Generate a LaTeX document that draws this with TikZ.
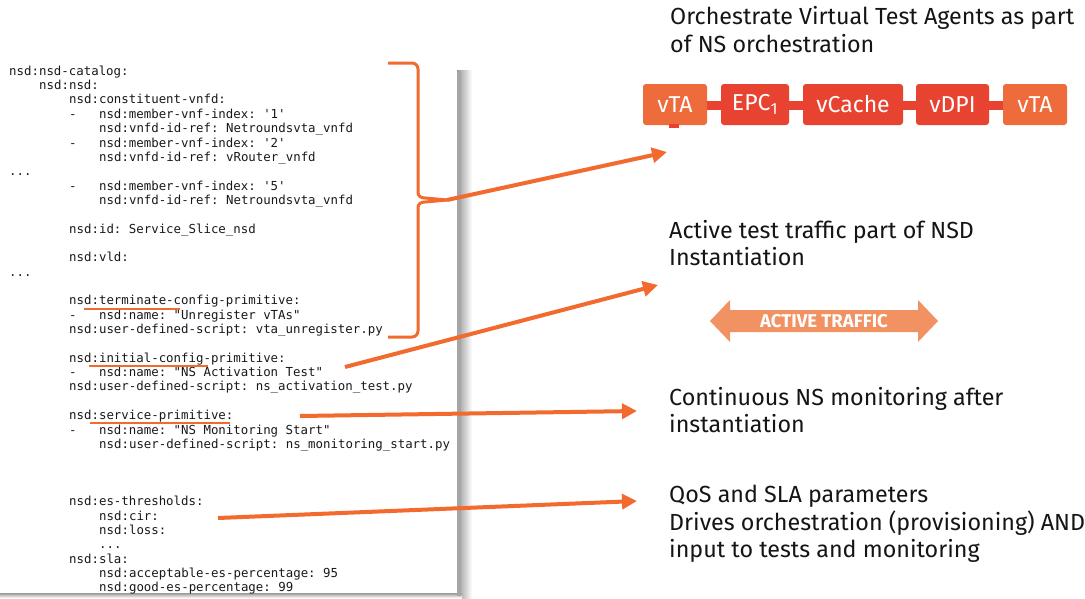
\documentclass[tikz,border=0pt]{standalone}
\usepackage{fontspec}
\setmainfont{Fira Sans}
\newfontfamily\codefont{DejaVu Sans Mono}
\usetikzlibrary{arrows.meta}
\definecolor{markorange}{HTML}{F26A2E}
\definecolor{vtaorange}{HTML}{EE6C3C}
\definecolor{vnfred}{HTML}{E84330}
\definecolor{trafficorange}{HTML}{F29263}
\definecolor{inktext}{HTML}{151515}

\begin{document}
\begin{tikzpicture}[x=1pt,y=-1pt,
    code/.style={anchor=west,inner sep=0pt,text=black!90,
      font=\codefont\fontsize{12.4}{14}\selectfont\frenchspacing,text height=9pt,text depth=2.5pt},
    title/.style={anchor=north west,align=left,inner sep=0pt,text=inktext,
      font=\fontsize{23.3}{27.4}\selectfont},
    vnfbox/.style={fill=vnfred,text=white,rounded corners=3pt,minimum height=41pt,
      inner sep=0pt,font=\fontsize{23}{23}\selectfont},
    vtabox/.style={vnfbox,fill=vtaorange},
    pointer/.style={markorange,line width=4pt,-{Triangle[length=15pt,width=15pt]}},
    markline/.style={markorange,line width=2.6pt},
  ]
    \useasboundingbox (0,0) rectangle (1085,598);
    \fill[white] (0,0) rectangle (1085,598);
    % code panel shadow
    \shade[left color=black!40,right color=white] (457,70) rectangle (472,598);
    \shade[top color=black!40,bottom color=white] (0,593) rectangle (462,598);
    \fill[black!35] (457,72) rectangle (461,596);

    % descriptor listing
    \node[code] (l0)  at (9,72)             {nsd:nsd-catalog:};
    \node[code] (l1)  at (39,72+1*14.35)    {nsd:nsd:};
    \node[code] (l2)  at (69,72+2*14.35)    {nsd:constituent-vnfd:};
    \node[code] (l3)  at (69,72+3*14.35)    {-\ \ \ nsd:member-vnf-index: '1'};
    \node[code] (l4)  at (99,72+4*14.35)    {nsd:vnfd-id-ref: Netroundsvta\_vnfd};
    \node[code] (l5)  at (69,72+5*14.35)    {-\ \ \ nsd:member-vnf-index: '2'};
    \node[code] (l6)  at (99,72+6*14.35)    {nsd:vnfd-id-ref: vRouter\_vnfd};
    \node[code] (l7)  at (9,72+7*14.35)     {...};
    \node[code] (l8)  at (69,72+8*14.35)    {-\ \ \ nsd:member-vnf-index: '5'};
    \node[code] (l9)  at (99,72+9*14.35)    {nsd:vnfd-id-ref: Netroundsvta\_vnfd};
    \node[code] (l11) at (69,72+11*14.35)   {nsd:id: Service\_Slice\_nsd};
    \node[code] (l13) at (69,72+13*14.35)   {nsd:vld:};
    \node[code] (l14) at (9,72+14*14.35)    {...};
    \node[code] (l16) at (69,72+16*14.35)   {nsd:terminate-config-primitive:};
    \node[code] (l17) at (69,72+17*14.35)   {-\ \ \ nsd:name: "Unregister vTAs"};
    \node[code] (l18) at (69,72+18*14.35)   {nsd:user-defined-script: vta\_unregister.py};
    \node[code] (l20) at (69,72+20*14.35)   {nsd:initial-config-primitive:};
    \node[code] (l21) at (69,72+21*14.35)   {-\ \ \ nsd:name: "NS Activation Test"};
    \node[code] (l22) at (69,72+22*14.35)   {nsd:user-defined-script: ns\_activation\_test.py};
    \node[code] (l24) at (69,72+24*14.35)   {nsd:service-primitive:};
    \node[code] (l25) at (69,72+25*14.35)   {-\ \ \ nsd:name: "NS Monitoring Start"};
    \node[code] (l26) at (99,72+26*14.35)   {nsd:user-defined-script: ns\_monitoring\_start.py};
    \node[code] (l30) at (69,72+30*14.35)   {nsd:es-thresholds:};
    \node[code] (l31) at (99,72+31*14.35)   {nsd:cir:};
    \node[code] (l32) at (99,72+32*14.35)   {nsd:loss:};
    \node[code] (l33) at (99,72+33*14.35)   {...};
    \node[code] (l34) at (69,72+34*14.35)   {nsd:sla:};
    \node[code] (l35) at (99,72+35*14.35)   {nsd:acceptable-es-percentage: 95};
    \node[code] (l36) at (99,72+36*14.35)   {nsd:good-es-percentage: 99};

    % hand-drawn marks
    \draw[markline] (84,309)--(180,309);
    \draw[markline] (89,366)--(208,366);
    \draw[markline] (90,423)--(230,423);
    \coordinate (tip) at (447,200);
    \draw[markline,line width=3pt,line join=round] (388,63) -- (412,63) to[out=0,in=90] (418,69)
      -- (418,193) to[out=-90,in=180] (425,198) -- (tip);
    \draw[markline,line width=3pt,line join=round] (388,337) -- (412,337) to[out=0,in=-90] (418,331)
      -- (418,207) to[out=90,in=180] (425,202) -- (tip);

    % right hand texts
    \node[title] (orch) at (670,6.5) {Orchestrate Virtual Test Agents as part\\of NS orchestration};
    \node[title] (active) at (669,220) {Active test traffic part of NSD\\Instantiation};
    \node[title] (monitor) at (669,387) {Continuous NS monitoring after\\instantiation};
    \node[title] (qos) at (669,485) {QoS and SLA parameters\\Drives orchestration (provisioning) AND\\input to tests and monitoring};

    % service chain
    \fill[vnfred] (680,100.5) rectangle (1030,109.5);
    \node[vtabox,minimum width=64pt] (vta1) at (675,104.5) {vTA};
    \node[vnfbox,minimum width=68pt] (epc) at (755,104.5) {EPC\textsubscript{1}};
    \node[vnfbox,minimum width=100pt] (vcache) at (853,104.5) {vCache};
    \node[vnfbox,minimum width=73pt] (vdpi) at (952.5,104.5) {vDPI};
    \node[vtabox,minimum width=64pt] (vta2) at (1035,104.5) {vTA};
    \fill[vnfred] (669,124) rectangle (679,128);

    % active traffic
    \fill[trafficorange] (710,321) -- (730,300) -- (730,310) -- (918,310) -- (918,300) -- (938,321)
      -- (918,342) -- (918,332) -- (730,332) -- (730,342) -- cycle;
    \node[text=white,font=\bfseries\fontsize{18.5}{18.5}\selectfont] (traffic) at (824,321) {ACTIVE TRAFFIC};

    % pointers
    \coordinate (p1) at (667,152);
    \coordinate (s2) at (345,367);
    \coordinate (p2) at (658,285);
    \coordinate (s3) at (300,416);
    \coordinate (p3) at (637,411);
    \coordinate (s4) at (218,518);
    \coordinate (p4) at (637,501);
    \draw[pointer] (tip) -- (p1);
    \draw[pointer] (s2) -- (p2);
    \draw[pointer] (s3) -- (p3);
    \draw[pointer] (s4) -- (p4);
\end{tikzpicture}
\end{document}
